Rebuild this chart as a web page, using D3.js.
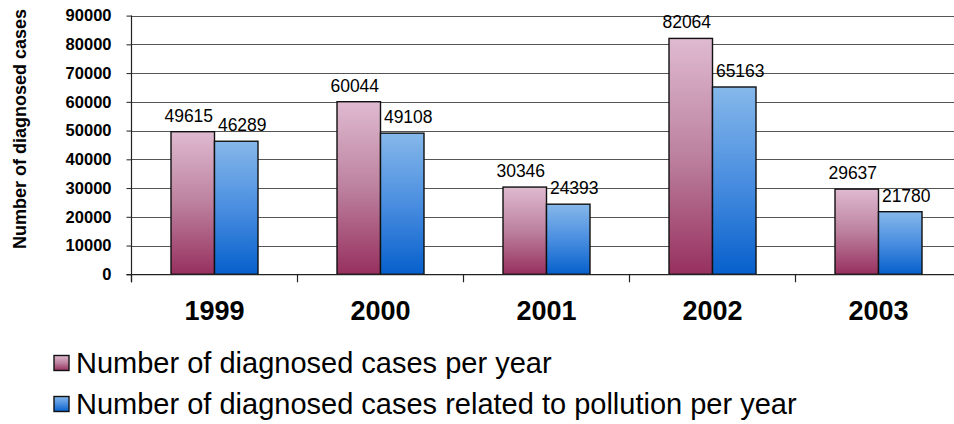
<!DOCTYPE html>
<html>
<head>
<meta charset="utf-8">
<script src="https://cdn.jsdelivr.net/npm/d3@7"></script>
<style>
  html, body { margin: 0; padding: 0; background: #fff; }
  svg { display: block; font-family: "Liberation Sans", Arial, sans-serif; }
</style>
</head>
<body>
<svg id="chart" width="954" height="424"></svg>
<script>
const categories = ["1999", "2000", "2001", "2002", "2003"];
const seriesNames = [
  "Number of diagnosed cases per year",
  "Number of diagnosed cases related to pollution per year"
];
const totalCases = [49615, 60044, 30346, 82064, 29637];
const pollutionCases = [46289, 49108, 24393, 65163, 21780];
const yTicks = [0, 10000, 20000, 30000, 40000, 50000, 60000, 70000, 80000, 90000];
const yTitle = "Number of diagnosed cases";

(function () {
const svg = d3.select("#chart");
const W = 954, H = 424;

const plotLeft = 131.5, plotTop = 15.6, plotBottom = 274.3;
const bandStep = 166;
const plotRight = plotLeft + bandStep * categories.length;

const y = d3.scaleLinear().domain([0, 90000]).range([plotBottom, plotTop]);
const x = d3.scaleBand().domain(categories).range([plotLeft, plotRight])
  .paddingInner(79 / 166).paddingOuter(79 / 166 / 2);
const xs = d3.scaleBand().domain([0, 1]).range([0, x.bandwidth()]);

// gradients
const defs = svg.append("defs");
const grads = [
  { id: "gPink", top: "#dfbad0", mid: "#bc819e", bot: "#97305f" },
  { id: "gBlue", top: "#86b8ea", mid: "#4a8ee0", bot: "#0660cc" }
];
grads.forEach(g => {
  const lg = defs.append("linearGradient").attr("id", g.id)
    .attr("x1", 0).attr("y1", 0).attr("x2", 0).attr("y2", 1);
  lg.append("stop").attr("offset", "0%").attr("stop-color", g.top);
  lg.append("stop").attr("offset", "50%").attr("stop-color", g.mid);
  lg.append("stop").attr("offset", "100%").attr("stop-color", g.bot);
});

svg.append("rect").attr("width", W).attr("height", H).attr("fill", "#fff");

// gridlines
svg.append("g").selectAll("line")
  .data(yTicks.filter(d => d > 0))
  .join("line")
  .attr("x1", plotLeft).attr("x2", W)
  .attr("y1", d => Math.round(y(d)) + 0.5).attr("y2", d => Math.round(y(d)) + 0.5)
  .attr("stroke", "#555").attr("stroke-width", 1);

// bars
const data = categories.map((c, i) => ({ cat: c, vals: [totalCases[i], pollutionCases[i]] }));
const fills = ["url(#gPink)", "url(#gBlue)"];
const groups = svg.append("g").selectAll("g").data(data).join("g")
  .attr("transform", d => `translate(${x(d.cat)},0)`);
groups.selectAll("rect")
  .data(d => d.vals.map((v, k) => ({ v, k })))
  .join("rect")
  .attr("x", d => xs(d.k))
  .attr("y", d => y(d.v))
  .attr("width", xs.bandwidth())
  .attr("height", d => y(0) - y(d.v))
  .attr("fill", d => fills[d.k])
  .attr("stroke", "#111").attr("stroke-width", 1.4);

// value labels
const labelDx = [-4, 6];
groups.selectAll("text.val")
  .data(d => d.vals.map((v, k) => ({ v, k })))
  .join("text").attr("class", "val")
  .attr("x", d => xs(d.k) + xs.bandwidth() / 2 + labelDx[d.k])
  .attr("y", d => y(d.v) - 10)
  .attr("text-anchor", "middle")
  .attr("font-size", "17.5px")
  .attr("fill", "#000")
  .text(d => d.v);

// y axis
const yAxis = d3.axisLeft(y).tickValues(yTicks).tickSize(5).tickPadding(15)
  .tickFormat(d3.format("d"));
const gy = svg.append("g").attr("transform", `translate(${plotLeft},0)`).call(yAxis);
gy.select(".domain").remove();
gy.selectAll(".tick line").attr("stroke", "#222");
gy.selectAll(".tick text")
  .attr("font-family", "Liberation Sans, Arial, sans-serif")
  .attr("font-size", "16.5px").attr("font-weight", "bold").attr("fill", "#000");
svg.append("line").attr("x1", plotLeft).attr("x2", plotLeft)
  .attr("y1", plotTop).attr("y2", plotBottom + 8).attr("stroke", "#222").attr("stroke-width", 1.2);

// x axis
svg.append("line").attr("x1", plotLeft - 5).attr("x2", W)
  .attr("y1", plotBottom + 0.3).attr("y2", plotBottom + 0.3)
  .attr("stroke", "#222").attr("stroke-width", 1.2);
const boundaries = d3.range(categories.length + 1).map(i => x.range()[0] + i * x.step());
svg.append("g").selectAll("line").data(boundaries).join("line")
  .attr("x1", d => d).attr("x2", d => d)
  .attr("y1", plotBottom).attr("y2", plotBottom + 8)
  .attr("stroke", "#222").attr("stroke-width", 1.2);
svg.append("g").selectAll("text").data(categories).join("text")
  .attr("x", d => x(d) + x.bandwidth() / 2)
  .attr("y", 320)
  .attr("text-anchor", "middle")
  .attr("font-size", "27px").attr("font-weight", "bold").attr("fill", "#000")
  .text(d => d);

// y title
svg.append("text")
  .attr("transform", "translate(26,129) rotate(-90)")
  .attr("text-anchor", "middle")
  .attr("font-size", "18px").attr("font-weight", "bold").attr("fill", "#000")
  .text(yTitle);

// legend
const legendRows = [373, 414];
const lg = svg.append("g").selectAll("g").data(seriesNames).join("g")
  .attr("transform", (d, i) => `translate(0,${legendRows[i]})`);
lg.append("rect")
  .attr("x", 54).attr("y", -17.5).attr("width", 15).attr("height", 15)
  .attr("fill", (d, i) => fills[i]).attr("stroke", "#111").attr("stroke-width", 1.4);
lg.append("text")
  .attr("x", 76).attr("y", 0)
  .attr("font-size", "29px").attr("fill", "#000")
  .text(d => d);
})();
</script>
</body>
</html>
